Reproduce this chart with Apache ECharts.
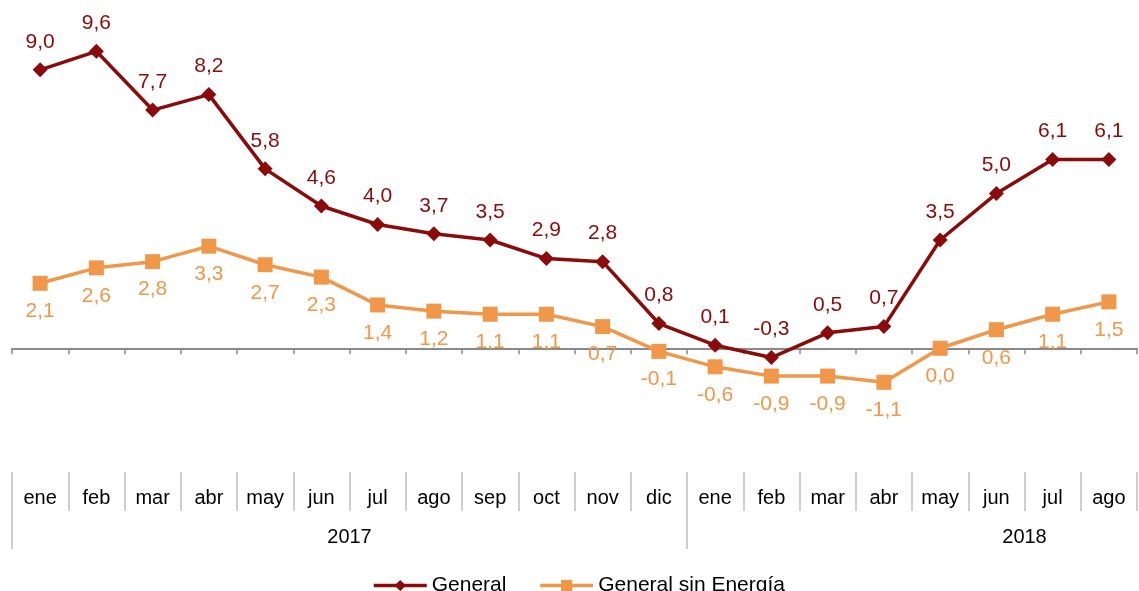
<!DOCTYPE html>
<html>
<head>
<meta charset="utf-8">
<script src="https://cdn.jsdelivr.net/npm/echarts@6/dist/echarts.min.js"></script>
<style>html,body{margin:0;padding:0;background:#fff;}#c{width:1139px;height:591px;}</style>
</head>
<body>
<div id="c"></div>
<script>
const months = ['ene','feb','mar','abr','may','jun','jul','ago','sep','oct','nov','dic','ene','feb','mar','abr','may','jun','jul','ago'];
const years = ['2017','2018'];
const general = [9.0,9.6,7.7,8.2,5.8,4.6,4.0,3.7,3.5,2.9,2.8,0.8,0.1,-0.3,0.5,0.7,3.5,5.0,6.1,6.1];
const generalSinEnergia = [2.1,2.6,2.8,3.3,2.7,2.3,1.4,1.2,1.1,1.1,0.7,-0.1,-0.6,-0.9,-0.9,-1.1,0.0,0.6,1.1,1.5];

const RED = '#8B0B0B';
const ORANGE = '#F0974A';
const FONT = 'Liberation Sans, Arial, sans-serif';
const fmt = p => p.value.toFixed(1).replace('.', ',');

const chart = echarts.init(document.getElementById('c'), null, {renderer: 'canvas'});
chart.setOption({
  animation: false,
  backgroundColor: '#ffffff',
  textStyle: {fontFamily: FONT},
  grid: [
    {left: 12, right: 2, top: 8, bottom: 119, outerBoundsMode: 'none', containLabel: false},
    {left: 12, width: 1350, top: 510, height: 1, outerBoundsMode: 'none', containLabel: false}
  ],
  xAxis: [
    {
      type: 'category', gridIndex: 0, data: months, boundaryGap: true,
      axisLine: {onZero: true, lineStyle: {color: '#898989', width: 2}},
      axisTick: {show: true, length: 6, lineStyle: {color: '#898989', width: 1.5}},
      axisLabel: {show: false}, splitLine: {show: false}
    },
    {
      type: 'category', gridIndex: 0, data: months, boundaryGap: true, position: 'bottom',
      axisLine: {show: false, onZero: false},
      axisTick: {show: true, length: 39, lineStyle: {color: '#BFBFBF', width: 1.5}},
      axisLabel: {show: true, interval: 0, margin: 16, color: '#000', fontSize: 20, fontFamily: FONT},
      splitLine: {show: false}
    },
    {
      type: 'category', gridIndex: 1, data: years, boundaryGap: true, position: 'bottom',
      axisLine: {show: false, onZero: false},
      axisTick: {show: true, length: 38, lineStyle: {color: '#BFBFBF', width: 1.5}},
      axisLabel: {show: true, interval: 0, margin: 16, color: '#000', fontSize: 20, fontFamily: FONT, hideOverlap: false},
      splitLine: {show: false}
    }
  ],
  yAxis: [
    {type: 'value', gridIndex: 0, min: -4, max: 11, show: false, splitLine: {show: false}},
    {type: 'value', gridIndex: 1, show: false, splitLine: {show: false}}
  ],
  legend: {
    left: 367, top: 570, itemWidth: 53, itemHeight: 14, itemGap: 32,
    lineStyle: {width: 3.5},
    textStyle: {fontSize: 21, color: '#000', fontFamily: FONT},
    data: ['General', 'General sin Energía']
  },
  series: [
    {
      name: 'General', type: 'line', xAxisIndex: 0, yAxisIndex: 0, data: general,
      color: RED, lineStyle: {color: RED, width: 3.5},
      symbol: 'diamond', symbolSize: [15, 15], itemStyle: {color: RED},
      label: {show: true, position: 'top', distance: 10, formatter: fmt, color: RED, fontSize: 21, fontFamily: FONT},
      z: 3
    },
    {
      name: 'General sin Energía', type: 'line', xAxisIndex: 0, yAxisIndex: 0, data: generalSinEnergia,
      color: ORANGE, lineStyle: {color: ORANGE, width: 3.5},
      symbol: 'rect', symbolSize: 15, itemStyle: {color: ORANGE},
      label: {show: true, position: 'bottom', distance: 10, formatter: fmt, color: ORANGE, fontSize: 21, fontFamily: FONT},
      z: 2
    }
  ]
});
</script>
</body>
</html>
